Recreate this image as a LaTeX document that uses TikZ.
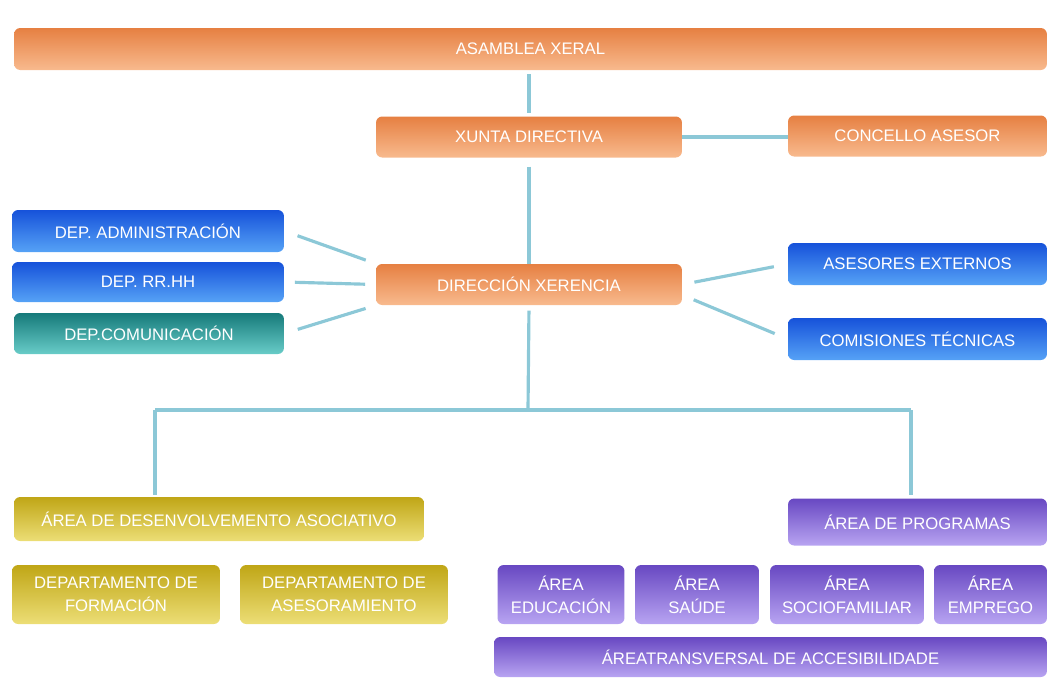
\documentclass[tikz,border=0pt]{standalone}
\usepackage{fontspec}
\setmainfont{Liberation Sans}
\usetikzlibrary{positioning}

\definecolor{linkcol}{RGB}{140,200,215}
\definecolor{orangetop}{RGB}{230,128,66}
\definecolor{orangebot}{RGB}{248,186,142}
\definecolor{bluetop}{RGB}{22,82,218}
\definecolor{bluebot}{RGB}{86,162,246}
\definecolor{tealtop}{RGB}{22,122,122}
\definecolor{tealbot}{RGB}{104,204,200}
\definecolor{olivetop}{RGB}{192,166,22}
\definecolor{olivebot}{RGB}{236,222,118}
\definecolor{purpletop}{RGB}{104,72,194}
\definecolor{purplebot}{RGB}{184,164,242}

\tikzstyle{box} = [
	rectangle,
	rounded corners=3.5pt,
	inner sep=0pt,
	align=center,
	text centered,
	text=white,
	font=\fontsize{9.5}{13}\selectfont]
\tikzstyle{orangebox} = [box, top color=orangetop, bottom color=orangebot]
\tikzstyle{bluebox} = [box, top color=bluetop, bottom color=bluebot]
\tikzstyle{tealbox} = [box, top color=tealtop, bottom color=tealbot]
\tikzstyle{olivebox} = [box, top color=olivetop, bottom color=olivebot]
\tikzstyle{purplebox} = [box, top color=purpletop, bottom color=purplebot]
\tikzstyle{link} = [line width=1.8pt, draw=linkcol]

\begin{document}
\begin{tikzpicture}[x=0.02cm, y=-0.02cm]
\useasboundingbox (0,0) rectangle (1049,677);

% --- Nodes ---
\node (asamblea) [orangebox, minimum width=20.66cm, minimum height=0.84cm] at (530.5,49) {ASAMBLEA XERAL};
\node (xunta) [orangebox, minimum width=6.12cm, minimum height=0.82cm] at (529,137) {XUNTA DIRECTIVA};
\node (concello) [orangebox, minimum width=5.18cm, minimum height=0.82cm] at (917.5,136) {CONCELLO ASESOR};
\node (direccion) [orangebox, minimum width=6.12cm, minimum height=0.82cm] at (529,284.5) {DIRECCIÓN XERENCIA};

\node (admin) [bluebox, minimum width=5.44cm, minimum height=0.84cm] at (148,231) {DEP. ADMINISTRACIÓN};
\node (rrhh) [bluebox, minimum width=5.44cm, minimum height=0.8cm] at (148,282) {DEP. RR.HH};
\node (comunicacion) [tealbox, minimum width=5.4cm, minimum height=0.82cm] at (149,333.5) {DEP.COMUNICACIÓN};

\node (asesores) [bluebox, minimum width=5.18cm, minimum height=0.84cm] at (917.5,264) {ASESORES EXTERNOS};
\node (comisions) [bluebox, minimum width=5.18cm, minimum height=0.84cm] at (917.5,339) {COMISIONES TÉCNICAS};

\node (desenv) [olivebox, minimum width=8.2cm, minimum height=0.88cm] at (219,519) {ÁREA DE DESENVOLVEMENTO ASOCIATIVO};
\node (formacion) [olivebox, minimum width=4.16cm, minimum height=1.18cm] at (116,594.5) {DEPARTAMENTO DE\\FORMACIÓN};
\node (asesoramento) [olivebox, minimum width=4.16cm, minimum height=1.18cm] at (344,594.5) {DEPARTAMENTO DE\\ASESORAMIENTO};

\node (programas) [purplebox, minimum width=5.18cm, minimum height=0.94cm] at (917.5,522) {ÁREA DE PROGRAMAS};
\node (educacion) [purplebox, minimum width=2.54cm, minimum height=1.18cm] at (561,594.5) {ÁREA\\EDUCACIÓN};
\node (saude) [purplebox, minimum width=2.48cm, minimum height=1.18cm] at (697,594.5) {ÁREA\\SAÚDE};
\node (sociofam) [purplebox, minimum width=3.08cm, minimum height=1.18cm] at (847,594.5) {ÁREA\\SOCIOFAMILIAR};
\node (emprego) [purplebox, minimum width=2.26cm, minimum height=1.18cm] at (990.5,594.5) {ÁREA\\EMPREGO};
\node (transversal) [purplebox, minimum width=11.06cm, minimum height=0.8cm] at (770.5,657) {ÁREATRANSVERSAL DE ACCESIBILIDADE};

\coordinate (split) at (528,410);
\coordinate (splitl) at (155,410);
\coordinate (splitr) at (911,410);

% --- Links ---
\draw [link, shorten <=2pt, shorten >=2pt] (xunta.north) -- (xunta.north |- asamblea.south);
\draw [link, line width=2.2pt] (xunta.east) -- (xunta.east -| concello.west);
\draw [link, shorten <=5pt] (xunta.south) -- (direccion.north);

\draw [link, shorten <=8pt, shorten >=6pt] (admin.east) -- (direccion.north west);
\draw [link, shorten <=6pt, shorten >=6pt] (rrhh.east) -- (direccion.west);
\draw [link, shorten <=8pt, shorten >=6pt] (comunicacion.east) -- (direccion.south west);

\draw [link, shorten <=7pt, shorten >=8pt] (direccion.east) -- (asesores.west);
\draw [link, shorten <=7pt, shorten >=8pt] ([yshift=-6pt]direccion.east) -- (comisions.west);

\draw [link, shorten <=3pt] (direccion.south) -- (split);
\draw [link] (splitl) -- (splitr);
\draw [link, shorten >=1pt] (splitl) -- (splitl |- desenv.north);
\draw [link, shorten >=2pt] (splitr) -- (splitr |- programas.north);

\end{tikzpicture}
\end{document}
